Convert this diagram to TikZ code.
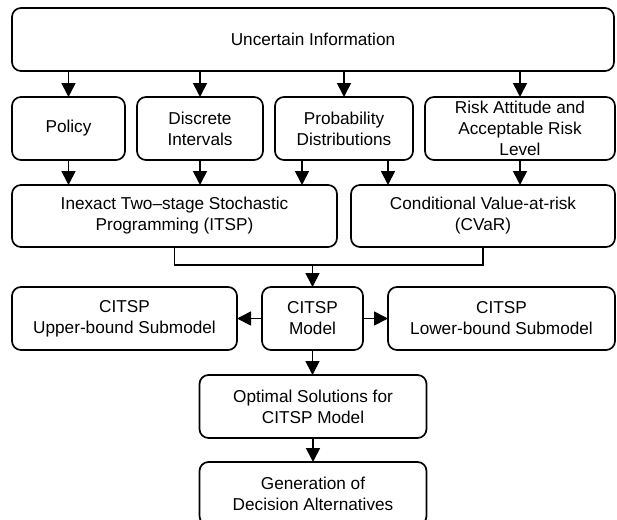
\documentclass[tikz,border=0pt]{standalone}
\usepackage{fontspec}
\setmainfont{Liberation Sans}
\usetikzlibrary{arrows.meta}
\begin{document}
\begin{tikzpicture}[x=1pt,y=-1pt,
    box/.style={draw,line width=1.7pt,rounded corners=9pt,align=center,
      inner sep=0pt,outer sep=0pt,minimum height=63pt,
      font=\fontsize{17.2}{21}\selectfont},
    arr/.style={line width=1.7pt,-{Triangle[length=14pt,width=14pt]}}]
    \useasboundingbox (0,0) rectangle (617,519);
    % top
    \node[box,minimum width=602pt] (info) at (313,39.5) {Uncertain Information};
    % sources
    \node[box,minimum width=113pt] (policy) at (68.5,128.5) {Policy};
    \node[box,minimum width=126pt] (discrete) at (200,128.5) {Discrete\\Intervals};
    \node[box,minimum width=138pt] (prob) at (344,128.5) {Probability\\Distributions};
    \node[box,minimum width=190pt] (risk) at (520,128.5) {Risk Attitude and\\Acceptable Risk\\Level};
    % methods
    \node[box,minimum width=325pt,minimum height=62pt] (itsp) at (174.5,216) {Inexact Two--stage Stochastic\\Programming (ITSP)};
    \node[box,minimum width=264pt,minimum height=62pt] (cvar) at (483,216) {Conditional Value-at-risk\\(CVaR)};
    % models
    \node[box,minimum width=225pt] (upper) at (124.5,318.5) {CITSP\\Upper-bound Submodel};
    \node[box,minimum width=101pt] (model) at (312.5,318.5) {CITSP\\Model};
    \node[box,minimum width=227pt] (lower) at (501.5,318.5) {CITSP\\Lower-bound Submodel};
    \node[box,minimum width=227pt] (optimal) at (313,406.5) {Optimal Solutions for\\CITSP Model};
    \node[box,minimum width=227pt] (gen) at (313,493.5) {Generation of\\Decision Alternatives};
    \coordinate (join) at (312.5,265);
    % arrows
    \draw[arr] (info.south -| policy) -- (policy.north);
    \draw[arr] (info.south -| discrete) -- (discrete.north);
    \draw[arr] (info.south -| prob) -- (prob.north);
    \draw[arr] (info.south -| risk) -- (risk.north);
    \draw[arr] (policy.south) -- (policy.south |- itsp.north);
    \draw[arr] (discrete.south) -- (discrete.south |- itsp.north);
    \draw[arr] ([xshift=-42pt]prob.south) -- ([xshift=-42pt]prob.south |- itsp.north);
    \draw[arr] ([xshift=44pt]prob.south) -- ([xshift=44pt]prob.south |- cvar.north);
    \draw[arr] (risk.south) -- (risk.south |- cvar.north);
    \draw[line width=1.7pt] (itsp.south) |- (join) -| (cvar.south);
    \draw[arr] (join) -- (model.north);
    \draw[arr] (model.west) -- (upper.east);
    \draw[arr] (model.east) -- (lower.west);
    \draw[arr] (model.south) -- (model.south |- optimal.north);
    \draw[arr] (optimal.south) -- (gen.north);
\end{tikzpicture}
\end{document}
